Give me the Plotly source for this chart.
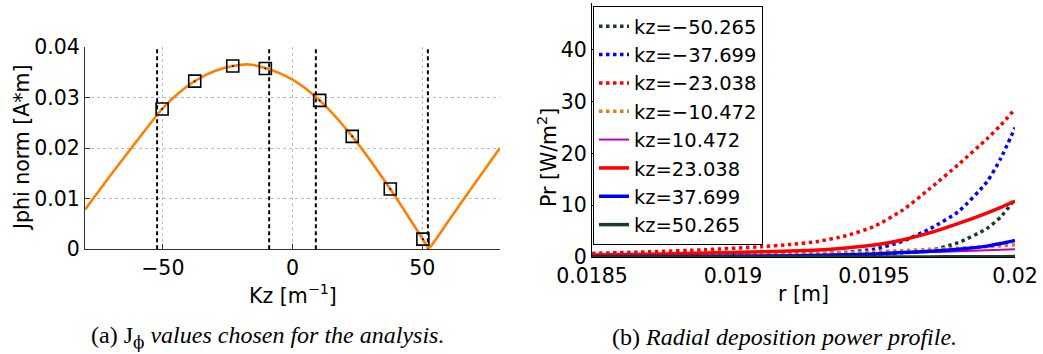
import plotly.graph_objects as go

W, H = 1043, 354

# ---------------- left panel: J_phi norm versus Kz ----------------
kz_curve = [-80, -70, -60, -50.265, -44, -37.699, -30, -23.038, -17, -10.472, 0, 10.472,
            23.038, 37.699, 50.265, 52.6, 55, 60, 70, 80]
jphi_curve = [0.0078, 0.0147, 0.0214, 0.0277, 0.0308, 0.0332, 0.0352, 0.0362, 0.0365, 0.0358,
              0.0335, 0.0294, 0.0223, 0.0119, 0.0020, 0.0003, 0.0018, 0.0055, 0.0128, 0.0200]

kz_chosen = [-50.265, -37.699, -23.038, -10.472, 10.472, 23.038, 37.699, 50.265]
jphi_chosen = [0.0277, 0.0332, 0.0362, 0.0357, 0.0294, 0.0223, 0.0119, 0.0020]

kz_limits = [-52.2, -9.0, 9.0, 52.2]

# ---------------- right panel: radial deposition power ----------------
r_m = [0.0185, 0.0187, 0.0189, 0.0191, 0.0192, 0.0193, 0.0194, 0.0195, 0.0196, 0.0197,
       0.0198, 0.0199, 0.01995, 0.02]

pr_m50 = [0.0, 0.05, 0.1, 0.12, 0.15, 0.2, 0.3, 0.5, 0.8, 1.3, 2.8, 5.5, 7.8, 11.2]
pr_m37 = [0.1, 0.15, 0.22, 0.35, 0.45, 0.6, 0.9, 1.5, 3.0, 5.5, 8.8, 14.5, 19.1, 25.0]
pr_m23 = [0.7, 1.0, 1.4, 2.0, 2.4, 3.0, 4.1, 5.9, 9.0, 13.3, 17.9, 22.8, 25.5, 28.6]
pr_m10 = [0.3, 0.38, 0.45, 0.55, 0.62, 0.7, 0.85, 1.0, 1.25, 1.5, 1.7, 2.0, 2.15, 2.35]
pr_p10 = [0.15, 0.2, 0.25, 0.32, 0.38, 0.45, 0.55, 0.65, 0.8, 0.95, 1.1, 1.3, 1.4, 1.5]
pr_p23 = [0.4, 0.55, 0.75, 1.0, 1.15, 1.35, 1.75, 2.3, 3.3, 4.7, 6.5, 8.5, 9.6, 10.8]
pr_p37 = [0.05, 0.08, 0.1, 0.15, 0.2, 0.3, 0.42, 0.6, 0.85, 1.1, 1.5, 2.1, 2.6, 3.2]
pr_p50 = [0.0, 0.0, 0.0, 0.0, 0.0, 0.0, 0.0, 0.01, 0.01, 0.02, 0.03, 0.05, 0.07, 0.1]

series = [
    ("kz=\u221250.265", pr_m50, "rgb(22,62,42)", "dot", 3.5),
    ("kz=\u221237.699", pr_m37, "rgb(0,0,255)", "dot", 3.5),
    ("kz=\u221223.038", pr_m23, "rgb(255,0,0)", "dot", 3.5),
    ("kz=\u221210.472", pr_m10, "rgb(214,130,40)", "dot", 3.5),
    ("kz=10.472", pr_p10, "rgb(190,0,190)", "solid", 2),
    ("kz=23.038", pr_p23, "rgb(255,0,0)", "solid", 3.5),
    ("kz=37.699", pr_p37, "rgb(0,0,255)", "solid", 3.5),
    ("kz=50.265", pr_p50, "rgb(22,62,42)", "solid", 3.5),
]

fig = go.Figure()

# vertical dashed limits
for k in kz_limits:
    fig.add_trace(go.Scatter(x=[k, k], y=[0, 0.04], mode="lines",
                             line=dict(color="black", width=2, dash="4px,3px"),
                             showlegend=False, xaxis="x", yaxis="y", hoverinfo="skip"))

fig.add_trace(go.Scatter(x=kz_curve, y=jphi_curve, mode="lines",
                         line=dict(color="rgb(255,128,0)", width=2.6, shape="spline", smoothing=0.8),
                         showlegend=False, xaxis="x", yaxis="y"))
fig.add_trace(go.Scatter(x=kz_chosen, y=jphi_chosen, mode="markers",
                         marker=dict(symbol="square-open", size=12, color="black", line=dict(width=1.6)),
                         showlegend=False, xaxis="x", yaxis="y"))
fig.add_trace(go.Scatter(x=kz_chosen, y=jphi_chosen, mode="markers",
                         marker=dict(symbol="circle", size=2, color="black"),
                         showlegend=False, xaxis="x", yaxis="y"))

for name, vals, color, dash, width in series:
    fig.add_trace(go.Scatter(x=r_m, y=vals, mode="lines", name=name,
                             line=dict(color=color, width=width, dash=dash, shape="spline", smoothing=0.6),
                             xaxis="x2", yaxis="y2"))

def px_x(p):
    return p / W

def px_y(p):
    return 1 - p / H

SANS = "DejaVu Sans, Liberation Sans, Arial"
tick_font = dict(family=SANS, size=20.5, color="black")

axis_common = dict(automargin=False, zeroline=False, tickfont=tick_font, ticks="inside", ticklen=5)

fig.update_layout(
    template="none",
    width=W, height=H,
    margin=dict(l=0, r=0, t=0, b=0, pad=0),
    paper_bgcolor="white", plot_bgcolor="white",
    showlegend=True,
    font=dict(family=SANS, color="black"),
    xaxis=dict(domain=[px_x(85), px_x(500)], range=[-80, 80], anchor="y",
               tickvals=[-50, 0, 50], ticktext=["\u221250", "0", "50"],
               tickcolor="#333", showline=True, linecolor="#333", linewidth=1,
               showgrid=True, gridcolor="#bbbbbb", griddash="dot", gridwidth=1, **axis_common),
    yaxis=dict(domain=[px_y(249.3), px_y(46.7)], range=[0, 0.04], anchor="x",
               tickvals=[0, 0.01, 0.02, 0.03, 0.04], ticktext=["0", "0.01", "0.02", "0.03", "0.04"],
               tickcolor="#333", showline=True, linecolor="#333", linewidth=1,
               showgrid=True, gridcolor="#bbbbbb", griddash="dot", gridwidth=1, **axis_common),
    xaxis2=dict(domain=[px_x(592), px_x(1015)], range=[0.0185, 0.02], anchor="y2",
                tickvals=[0.0185, 0.019, 0.0195, 0.02], ticktext=["0.0185", "0.019", "0.0195", "0.02"],
                tickcolor="black", showline=True, linecolor="black", linewidth=1,
                showgrid=False, **axis_common),
    yaxis2=dict(domain=[px_y(257), px_y(3.4)], range=[0, 49], anchor="x2",
                tickvals=[0, 10, 20, 30, 40], ticktext=["0", "10", "20", "30", "40"],
                tickcolor="black", showline=True, linecolor="black", linewidth=1,
                showgrid=False, **axis_common),
    legend=dict(x=px_x(593), y=px_y(6), xanchor="left", yanchor="top",
                bgcolor="white", bordercolor="black", borderwidth=1,
                font=dict(family=SANS, size=19.5, color="black"),
                itemwidth=30, tracegroupgap=0),
)

label_font = dict(family=SANS, size=20.5, color="black")
cap_font = dict(family="Liberation Serif, Times New Roman", size=24, color="black")

def add_text(x, y, text, font, angle=0):
    fig.add_annotation(x=px_x(x), y=px_y(y), xref="paper", yref="paper", text=text,
                       textangle=angle, showarrow=False, font=font,
                       xanchor="center", yanchor="middle")

add_text(22, 148, "Jphi norm [A*m]", label_font, -90)
add_text(292.5, 294, "Kz [m<sup>\u22121</sup>]", label_font)
add_text(547, 158, "Pr [W/m<sup>2</sup>]", label_font, -90)
add_text(803, 294, "r [m]", label_font)
add_text(267, 337,
         "(a) J<sub><span style='font-family:DejaVu Serif;color:black'>\u03d5</span></sub>"
         " <i>values chosen for the analysis.</i>", cap_font)
add_text(784, 337, "(b) <i>Radial deposition power profile.</i>", cap_font)

fig.write_html("out.html")
